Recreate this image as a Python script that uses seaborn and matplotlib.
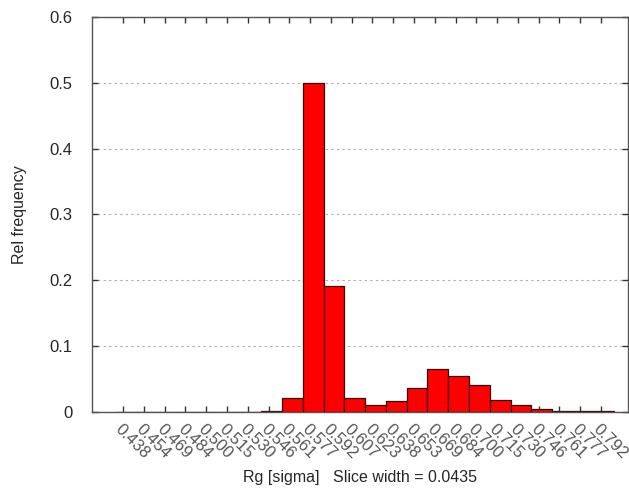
import numpy as np
import pandas as pd
import seaborn as sns
import matplotlib
matplotlib.use("Agg")
import matplotlib.pyplot as plt

# Histogram data
bin_labels = ["0.438", "0.454", "0.469", "0.484", "0.500", "0.515", "0.530", "0.546",
              "0.561", "0.577", "0.592", "0.607", "0.623", "0.638", "0.653", "0.669",
              "0.684", "0.700", "0.715", "0.730", "0.746", "0.761", "0.777", "0.792"]
rel_freq = [0, 0, 0, 0, 0, 0, 0, 0.002,
            0.022, 0.5, 0.192, 0.022, 0.011, 0.017, 0.036, 0.065,
            0.055, 0.041, 0.018, 0.011, 0.005, 0.001, 0.001, 0.001]
y_ticks = [0, 0.1, 0.2, 0.3, 0.4, 0.5, 0.6]

df = pd.DataFrame({"Rg": bin_labels, "freq": rel_freq})

sns.set_style("white")
plt.rcParams['font.family'] = ['Liberation Sans', 'DejaVu Sans']

fig = plt.figure(figsize=(6.29, 4.92), dpi=100)
ax = fig.add_axes([0.1463, 0.1626, 0.852, 0.803])

sns.barplot(data=df, x="Rg", y="freq", color="#ff0000", saturation=1,
            width=1, edgecolor="#3a0000", linewidth=0.9, ax=ax, zorder=2)

# Grid and frame
ax.set_ylim(0, 0.6)
ax.set_yticks(y_ticks)
ax.set_yticklabels(["0", "0.1", "0.2", "0.3", "0.4", "0.5", "0.6"], fontsize=12)
ax.yaxis.grid(True, linestyle=(0, (2, 3)), color="#aaaaaa", linewidth=0.8)
ax.set_axisbelow(True)
for s in ax.spines.values():
    s.set_visible(True)
    s.set_color("#555555")
    s.set_linewidth(1.0)
    s.set_zorder(3)

pos = np.arange(len(bin_labels)) - 0.15
ax.set_xticks(pos)
ax.set_xticklabels(bin_labels, rotation=-45, ha="left", va="top",
                   rotation_mode="anchor", fontsize=12, color="#555555")
ax.set_xlim(-1.65, 24.15)
ax.tick_params(axis="both", direction="in", length=4, width=1, color="#333333",
               top=True, right=True, bottom=True, left=True)
ax.tick_params(axis="x", pad=7)
ax.tick_params(axis="y", pad=14)

ax.set_xlabel("Rg [sigma]   Slice width = 0.0435", fontsize=11.5)
ax.xaxis.set_label_coords(0.5, -0.148)
ax.set_ylabel("Rel frequency", fontsize=11.5, labelpad=16)

plt.savefig("out.png", dpi=100)
